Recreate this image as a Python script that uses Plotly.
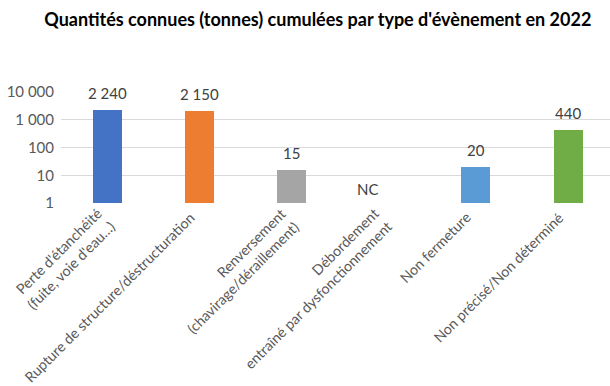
import math
import plotly.graph_objects as go

# Event types (line breaks as displayed on the axis)
categories = [
    "Perte d'étanchéité<br>(fuite, voie d'eau…)",
    "Rupture de structure/déstructuration",
    "Renversement<br>(chavirage/déraillement)",
    "Débordement<br>entraîné par dysfonctionnement",
    "Non fermeture",
    "Non précisé/Non déterminé",
]
# Cumulated known quantities in tonnes (None = not communicated)
quantities = [2240, 2150, 15, None, 20, 440]
bar_colors = ["#4472C4", "#ED7D31", "#A5A5A5", "#A5A5A5", "#5B9BD5", "#70AD47"]
tick_values = [1, 10, 100, 1000, 10000]
tick_labels = ["1", "10", "100", "1 000", "10 000"]
missing_label = "NC"
title_text = "Quantités connues (tonnes) cumulées par type d'évènement en 2022"

FONT = "Lato"
GREY_TEXT = "#595959"

xs = list(range(len(categories)))


def fmt(v):
    return f"{v:,}".replace(",", " ")


fig = go.Figure()
fig.add_trace(go.Bar(
    x=xs,
    y=quantities,
    width=0.315,
    marker=dict(color=bar_colors, line=dict(width=0)),
    hoverinfo="skip",
))

annotations = []
# value labels above the bars (log axis: annotation y in log10 units)
for x, v in zip(xs, quantities):
    if v is None:
        annotations.append(dict(
            x=x, y=0, xref="x", yref="paper", text=missing_label,
            showarrow=False, xanchor="center", yanchor="bottom",
            xshift=-16, yshift=3,
            font=dict(family=FONT, size=15, color="#404040"),
        ))
    else:
        annotations.append(dict(
            x=x, y=math.log10(v), xref="x", yref="y", text=fmt(v),
            showarrow=False, xanchor="center", yanchor="bottom", yshift=6,
            font=dict(family=FONT, size=15, color="#404040"),
        ))

# rotated category labels, lines aligned on their ends
for x, c in zip(xs, categories):
    n_lines = c.count("<br>") + 1
    annotations.append(dict(
        x=x, y=0, xref="x", yref="paper", text=c,
        showarrow=False, textangle=-45, align="right",
        xanchor="right", yanchor="top",
        xshift=1 + 13 * (n_lines - 1), yshift=-3 + 4 * (n_lines - 1),
        font=dict(family=FONT, size=14.3, color=GREY_TEXT),
    ))

fig.update_layout(
    width=610, height=386,
    margin=dict(l=61, r=0, t=92, b=183),
    paper_bgcolor="white", plot_bgcolor="white",
    showlegend=False,
    bargap=0,
    title=dict(
        text=title_text, x=0.521, xanchor="center",
        y=1 - 20 / 386, yanchor="middle",
        font=dict(family=FONT, size=18, color="#000000", weight="bold"),
    ),
    xaxis=dict(
        range=[-0.5, 5.455], showticklabels=False, showgrid=False,
        zeroline=False, showline=False, fixedrange=True,
    ),
    yaxis=dict(
        type="log", range=[0, 4],
        tickvals=tick_values, ticktext=tick_labels,
        showgrid=True, gridcolor="#D9D9D9", gridwidth=1,
        showline=False, zeroline=False, ticks="",
        ticklabelstandoff=6,
        tickfont=dict(family=FONT, size=15, color=GREY_TEXT),
    ),
    annotations=annotations,
)

fig.write_html("out.html")
